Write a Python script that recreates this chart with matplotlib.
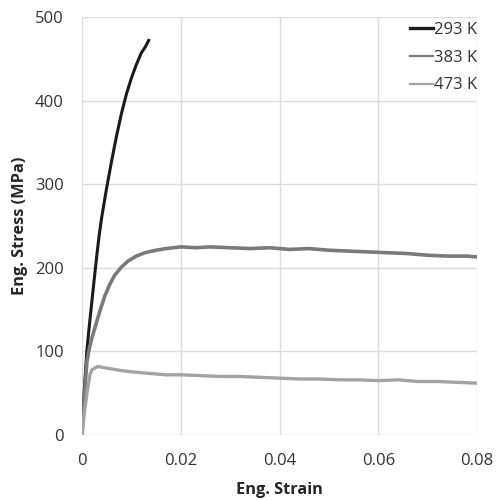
import matplotlib
matplotlib.use("Agg")
import matplotlib.pyplot as plt

# strain / stress readings taken from the curves
strain_293 = [0, 0.0005, 0.0010, 0.0015, 0.0020, 0.0025, 0.0030, 0.0035, 0.0040,
              0.0050, 0.0060, 0.0070, 0.0080, 0.0090, 0.0100, 0.0110, 0.0120,
              0.0128, 0.0135]
stress_293 = [0, 58, 102, 132, 160, 188, 215, 240, 261, 296, 328, 358, 385, 408,
              427, 443, 457, 464, 472]

strain_383 = [0, 0.0005, 0.0010, 0.0015, 0.0020, 0.0025, 0.0030, 0.0036, 0.0046,
              0.0056, 0.0066, 0.0080, 0.0093, 0.0110, 0.0127, 0.0150, 0.0170,
              0.0200, 0.0230, 0.0260, 0.0300, 0.0340, 0.0380, 0.0420, 0.0460,
              0.0500, 0.0540, 0.0580, 0.0620, 0.0660, 0.0700, 0.0740, 0.0780,
              0.0800]
stress_383 = [0, 50, 88, 104, 116, 126, 136, 148, 166, 180, 191, 201, 208, 214,
              218, 221, 223, 225, 224, 225, 224, 223, 224, 222, 223, 221, 220,
              219, 218, 217, 215, 214, 214, 213]

strain_473 = [0, 0.0005, 0.0010, 0.0016, 0.0020, 0.0032, 0.0050, 0.0070, 0.0093,
              0.0130, 0.0170, 0.0200, 0.0240, 0.0280, 0.0320, 0.0360, 0.0400,
              0.0440, 0.0480, 0.0520, 0.0560, 0.0600, 0.0640, 0.0680, 0.0720,
              0.0760, 0.0800]
stress_473 = [0, 28, 50, 72, 78, 82, 80, 78, 76, 74, 72, 72, 71, 70, 70, 69, 68,
              67, 67, 66, 66, 65, 66, 64, 64, 63, 62]

labels = ["293 K", "383 K", "473 K"]
colors = ["#1a1a1a", "#7a7a7a", "#a3a3a3"]

plt.rcParams['font.family'] = ['Open Sans', 'DejaVu Sans']

fig = plt.figure(figsize=(4.98, 5.0), dpi=100)
ax = fig.add_axes([0.1647, 0.13, 0.7933, 0.836])

ax.plot(strain_293, stress_293, color=colors[0], lw=2.2, label=labels[0])
ax.plot(strain_383, stress_383, color=colors[1], lw=2.6, label=labels[1])
ax.plot(strain_473, stress_473, color=colors[2], lw=2.4, label=labels[2])

ax.set_xlim(0, 0.08)
ax.set_ylim(0, 500)
ax.set_xticks([0, 0.02, 0.04, 0.06, 0.08])
ax.set_xticklabels(["0", "0.02", "0.04", "0.06", "0.08"])
ax.set_yticks([0, 100, 200, 300, 400, 500])

ax.grid(True, color="#dcdcdc", lw=1)
ax.set_axisbelow(True)
for s in ax.spines.values():
    s.set_visible(False)
ax.tick_params(length=0, labelsize=12, labelcolor="#333333")
ax.tick_params(axis="x", pad=13)
ax.tick_params(axis="y", pad=13)

ax.set_xlabel("Eng. Strain", fontsize=11.8, fontweight="bold", color="#262626", labelpad=9)
ax.set_ylabel("Eng. Stress (MPa)", fontsize=11.8, fontweight="bold", color="#262626", labelpad=5)

leg = ax.legend(loc="upper right", frameon=False, fontsize=12, handlelength=1.4,
                handletextpad=0.05, labelspacing=0.7, borderpad=0, borderaxespad=0,
                bbox_to_anchor=(1.0, 0.988), labelcolor="#333333")
for h, w in zip(leg.get_lines(), [2.4, 1.6, 1.6]):
    h.set_linewidth(w)

fig.savefig("out.png", dpi=100)
